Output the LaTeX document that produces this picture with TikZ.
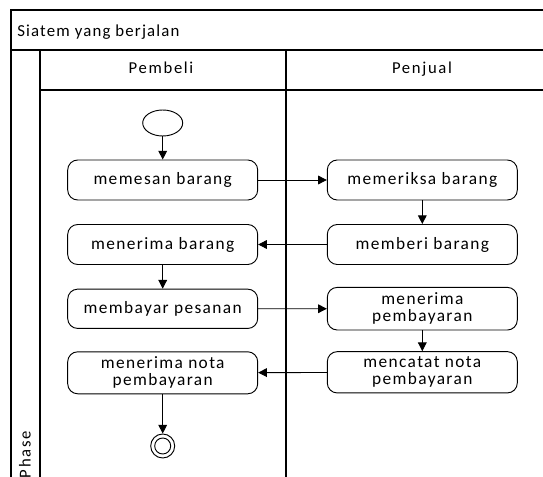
\documentclass[tikz,border=0pt]{standalone}
\usepackage{fontspec}
\setmainfont{Carlito}[LetterSpace=8]
\newfontfamily\titlefont{Carlito}[LetterSpace=7]
\newfontfamily\headfont{Carlito}[LetterSpace=10]
\usetikzlibrary{arrows.meta,shapes.geometric}
\begin{document}
\begin{tikzpicture}[x=0.75pt,y=-0.75pt,
  frame/.style={line width=0.95pt,black},
  act/.style={draw,line width=0.7pt,rounded corners=7.5pt,minimum width=142.5pt,
    minimum height=30pt,inner sep=0pt,align=center,
    font=\fontsize{13}{12.6}\selectfont},
  flow/.style={line width=0.7pt,-{Triangle[length=6.5pt,width=6.5pt]}},
  lbl/.style={inner sep=0pt,font=\headfont\fontsize{12.5}{14}\selectfont}]
\useasboundingbox (0,0) rectangle (543,477);

% pool, title bar, phase column and lanes
\draw[frame] (543,10) -- (11,10) -- (11,477);
\draw[frame] (11,50) -- (543,50);
\draw[frame] (40,50) -- (40,477);
\draw[frame] (40,90) -- (543,90);
\draw[frame] (286,50) -- (286,477);

\node[lbl,anchor=base west,font=\titlefont\fontsize{12.6}{14}\selectfont] (title) at (17,36.5) {Siatem yang berjalan};
\node[lbl,anchor=base] (lane1) at (161,74) {Pembeli};
\node[lbl,anchor=base] (lane2) at (422,74) {Penjual};
\node[lbl,anchor=base east,rotate=90] (phase) at (30.5,431) {Phase};

% activities
\node[draw,ellipse,line width=0.7pt,minimum width=30pt,minimum height=19.5pt,inner sep=0pt] (start) at (162.7,123) {};
\node[act] (pesan) at (162.7,180) {memesan barang};
\node[act] (periksa) at (422.3,180) {memeriksa barang};
\node[act] (terima) at (162.7,244.5) {menerima barang};
\node[act] (beri) at (422.3,244.5) {memberi barang};
\node[act,minimum height=29.5pt] (bayar) at (162.7,308.8) {membayar pesanan};
\node[act,minimum height=32pt] (terimabayar) at (422.3,308.7) {menerima\\pembayaran};
\node[act,minimum height=31.5pt] (nota) at (162.7,372.8) {menerima nota\\pembayaran};
\node[act,minimum height=31pt] (catat) at (422.3,372.3) {mencatat nota\\pembayaran};
\node[draw,circle,line width=0.7pt,minimum size=18pt,inner sep=0pt] (end) at (162.7,446) {};
\node[draw,circle,line width=0.7pt,minimum size=12pt,inner sep=0pt] (endin) at (end.center) {};

% control flow
\draw[flow] (start) -- (pesan);
\draw[flow] (pesan) -- (periksa);
\draw[flow] (periksa) -- (beri);
\draw[flow] (beri) -- (terima);
\draw[flow] (terima) -- (bayar);
\draw[flow] (bayar) -- (terimabayar);
\draw[flow] (terimabayar) -- (catat);
\draw[flow] (catat) -- (nota);
\draw[flow] (nota) -- (end);
\end{tikzpicture}
\end{document}
